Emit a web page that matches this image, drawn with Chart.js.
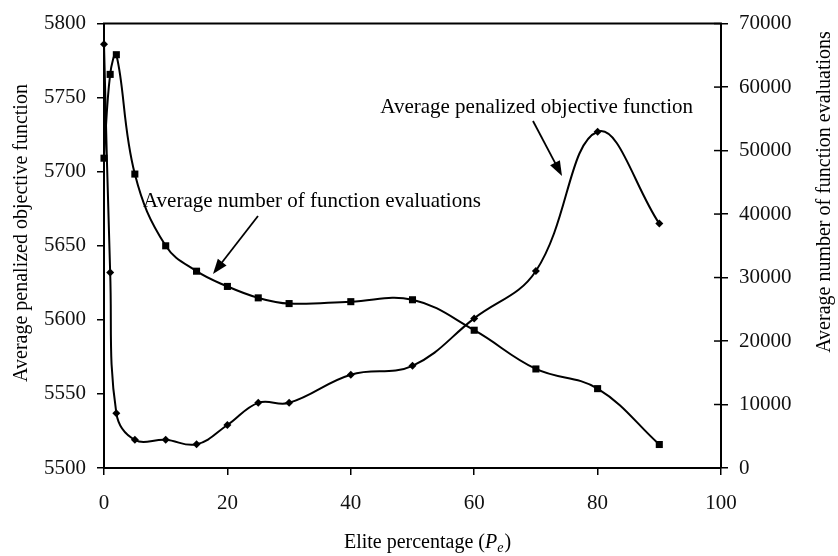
<!DOCTYPE html>
<html>
<head>
<meta charset="utf-8">
<script src="https://cdn.jsdelivr.net/npm/chart.js@4"></script>
<style>
  html, body { margin: 0; padding: 0; background: #fff; }
  #wrap { width: 838px; height: 556px; }
</style>
</head>
<body>
<div id="wrap"><canvas id="chart" width="838" height="556"></canvas></div>
<script>
// --- data ---
var elitePct = [0, 1, 2, 5, 10, 15, 20, 25, 30, 40, 50, 60, 70, 80, 90];
var penalizedObj = [5786, 5632, 5537, 5519, 5519, 5516, 5529, 5544, 5544, 5563, 5569, 5601, 5633, 5727, 5665];
var funcEvals = [48800, 62000, 65100, 46300, 35000, 31000, 28600, 26800, 25900, 26200, 26500, 21700, 15600, 12500, 3700];

var FONT = '"Liberation Serif", "Times New Roman", serif';

function pairs(xs, ys) {
  return xs.map(function(x, i) { return { x: x, y: ys[i] }; });
}

function plain(v) { return String(v); }

function arrow(ctx, x1, y1, x2, y2) {
  var ang = Math.atan2(y2 - y1, x2 - x1);
  var len = 15, half = 5.5;
  ctx.beginPath();
  ctx.moveTo(x1, y1);
  ctx.lineTo(x2 - Math.cos(ang) * len * 0.8, y2 - Math.sin(ang) * len * 0.8);
  ctx.stroke();
  ctx.beginPath();
  ctx.moveTo(x2, y2);
  ctx.lineTo(x2 - Math.cos(ang) * len + Math.sin(ang) * half, y2 - Math.sin(ang) * len - Math.cos(ang) * half);
  ctx.lineTo(x2 - Math.cos(ang) * len - Math.sin(ang) * half, y2 - Math.sin(ang) * len + Math.cos(ang) * half);
  ctx.closePath();
  ctx.fill();
}

// frame top, inner ticks on right axis, titles and the two callouts
var decor = {
  id: 'decor',
  afterDraw: function(chart) {
    var ctx = chart.ctx, a = chart.chartArea;
    ctx.save();
    ctx.strokeStyle = '#000';
    ctx.fillStyle = '#000';

    // top border of the box
    ctx.lineWidth = 2;
    ctx.beginPath();
    ctx.moveTo(a.left - 1, a.top);
    ctx.lineTo(a.right + 1, a.top);
    ctx.stroke();

    // right axis ticks cross the axis line
    var y1 = chart.scales.y1;
    ctx.lineWidth = 1.5;
    y1.ticks.forEach(function(t) {
      var py = y1.getPixelForValue(t.value);
      ctx.beginPath();
      ctx.moveTo(a.right - 7, py);
      ctx.lineTo(a.right, py);
      ctx.stroke();
    });

    // axis titles
    ctx.font = '20px ' + FONT;
    ctx.textBaseline = 'middle';
    ctx.textAlign = 'center';
    ctx.save();
    ctx.translate(22, 233);
    ctx.rotate(-Math.PI / 2);
    ctx.fillText('Average penalized objective function', 0, 0);
    ctx.restore();
    ctx.save();
    ctx.translate(825, 192);
    ctx.rotate(-Math.PI / 2);
    ctx.fillText('Average number of function evaluations', 0, 0);
    ctx.restore();

    // x title with italic P and subscript e
    var partA = 'Elite percentage (';
    ctx.textAlign = 'left';
    ctx.textBaseline = 'alphabetic';
    ctx.font = '20px ' + FONT;
    var wA = ctx.measureText(partA).width;
    ctx.font = 'italic 20px ' + FONT;
    var wP = ctx.measureText('P').width;
    ctx.font = 'italic 14px ' + FONT;
    var wE = ctx.measureText('e').width;
    ctx.font = '20px ' + FONT;
    var wC = ctx.measureText(')').width;
    var x0 = 427 - (wA + wP + wE + wC) / 2, base = 548;
    ctx.fillText(partA, x0, base);
    ctx.font = 'italic 20px ' + FONT;
    ctx.fillText('P', x0 + wA, base);
    ctx.font = 'italic 14px ' + FONT;
    ctx.fillText('e', x0 + wA + wP, base + 4);
    ctx.font = '20px ' + FONT;
    ctx.fillText(')', x0 + wA + wP + wE + 1, base);

    // callouts
    ctx.font = '21px ' + FONT;
    ctx.textAlign = 'right';
    ctx.fillText('Average penalized objective function', 693, 113);
    ctx.textAlign = 'left';
    ctx.fillText('Average number of function evaluations', 143, 207);
    ctx.lineWidth = 1.8;
    arrow(ctx, 533, 121, 562, 176);
    arrow(ctx, 258, 216, 213, 274);

    ctx.restore();
  }
};

var axisGrid = { display: true, drawOnChartArea: false, color: '#000', lineWidth: 1.5, tickLength: 7 };
var axisBorder = { display: true, color: '#000', width: 2 };
var tickFont = { family: FONT, size: 21 };

new Chart(document.getElementById('chart').getContext('2d'), {
  type: 'line',
  data: {
    datasets: [
      {
        label: 'Average penalized objective function',
        data: pairs(elitePct, penalizedObj),
        yAxisID: 'y',
        borderColor: '#000',
        backgroundColor: '#000',
        borderWidth: 2,
        tension: 0.4,
        pointStyle: 'rectRot',
        pointRadius: 4,
        pointBorderWidth: 0,
        clip: false,
        fill: false
      },
      {
        label: 'Average number of function evaluations',
        data: pairs(elitePct, funcEvals),
        yAxisID: 'y1',
        borderColor: '#000',
        backgroundColor: '#000',
        borderWidth: 2,
        tension: 0.4,
        pointStyle: 'rect',
        pointRadius: 5,
        pointBorderWidth: 0,
        clip: false,
        fill: false
      }
    ]
  },
  options: {
    responsive: false,
    animation: false,
    devicePixelRatio: 1,
    layout: { padding: { top: 22, left: 0, right: 0, bottom: 0 } },
    plugins: {
      legend: { display: false },
      tooltip: { enabled: false }
    },
    scales: {
      x: {
        type: 'linear',
        min: 0, max: 100,
        grid: axisGrid,
        border: axisBorder,
        ticks: { stepSize: 20, color: '#111', font: tickFont, padding: 16, maxRotation: 0, callback: plain },
        afterFit: function(s) { s.height = 88; s.paddingLeft = 0; s.paddingRight = 0; }
      },
      y: {
        position: 'left',
        min: 5500, max: 5800,
        grid: axisGrid,
        border: axisBorder,
        ticks: { stepSize: 50, color: '#111', font: tickFont, padding: 11, callback: plain },
        afterFit: function(s) { s.width = 104; }
      },
      y1: {
        position: 'right',
        min: 0, max: 70000,
        grid: axisGrid,
        border: axisBorder,
        ticks: { stepSize: 10000, color: '#111', font: tickFont, padding: 11, callback: plain },
        afterFit: function(s) { s.width = 117; }
      }
    }
  },
  plugins: [decor]
});
</script>
</body>
</html>
